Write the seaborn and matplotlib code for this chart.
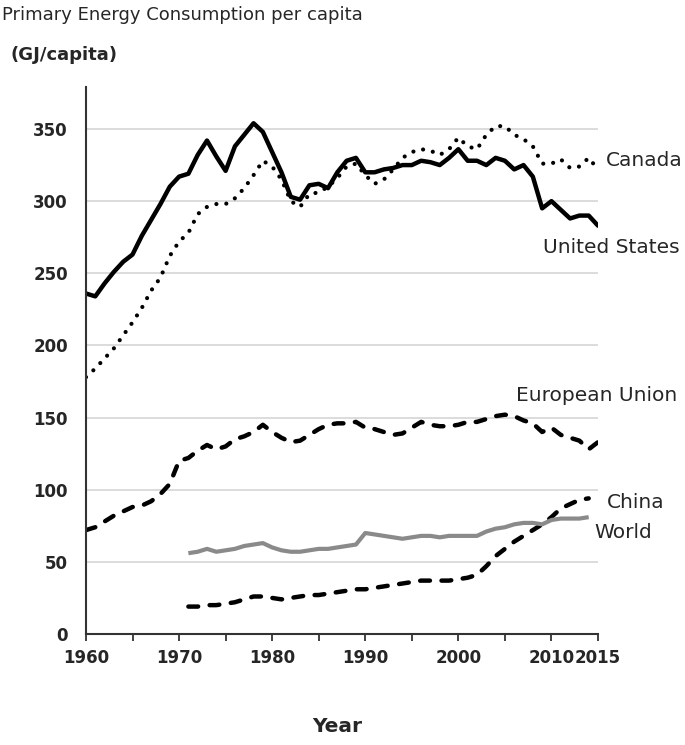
import matplotlib

matplotlib.use("Agg")
import matplotlib.pyplot as plt
import numpy as np
import pandas as pd
import seaborn as sns

# values (GJ per capita)
years_full = list(range(1960, 2016))
years_short = list(range(1971, 2015))

united_states = [
    236, 234, 243, 251, 258, 263, 276, 287, 298, 310,
    317, 319, 332, 342, 331, 321, 338, 346, 354, 348,
    334, 320, 303, 301, 311, 312, 309, 320, 328, 330,
    320, 320, 322, 323, 325, 325, 328, 327, 325, 330,
    336, 328, 328, 325, 330, 328, 322, 325, 317, 295,
    300, 294, 288, 290, 290, 283,
]
canada = [
    178, 184, 191, 198, 207, 216, 226, 238, 247, 262,
    272, 278, 291, 296, 298, 298, 302, 309, 318, 328,
    324, 315, 300, 296, 305, 306, 310, 316, 324, 326,
    318, 312, 315, 322, 330, 334, 336, 335, 332, 336,
    344, 338, 336, 346, 352, 352, 346, 343, 338, 326,
    326, 329, 323, 324, 330, 322,
]
european_union = [
    72, 74, 78, 82, 85, 88, 89, 92, 97, 104,
    120, 122, 127, 131, 128, 130, 135, 137, 140, 145,
    140, 136, 133, 134, 138, 142, 145, 146, 146, 147,
    143, 142, 140, 138, 139, 143, 147, 145, 144, 144,
    145, 147, 147, 149, 151, 152, 151, 148, 146, 140,
    143, 138, 136, 134, 128, 133,
]
world = [
    56, 57, 59, 57, 58, 59, 61, 62, 63,
    60, 58, 57, 57, 58, 59, 59, 60, 61, 62,
    70, 69, 68, 67, 66, 67, 68, 68, 67, 68,
    68, 68, 68, 71, 73, 74, 76, 77, 77, 76,
    79, 80, 80, 80, 81,
]
china = [
    19, 19, 20, 20, 21, 22, 24, 26, 26,
    25, 24, 25, 26, 27, 27, 28, 29, 30, 31,
    31, 32, 33, 34, 35, 36, 37, 37, 37, 37,
    38, 39, 41, 47, 54, 59, 64, 68, 72, 76,
    81, 87, 90, 93, 94,
]

x_ticks = list(range(1960, 2016, 5))
x_tick_labels = ["1960", "", "1970", "", "1980", "", "1990", "", "2000", "", "2010", "2015"]
y_ticks = [0, 50, 100, 150, 200, 250, 300, 350]

sns.set_style("white")
plt.rcParams["font.family"] = ["DejaVu Sans"]

TEXT = "#262626"
fig = plt.figure(figsize=(6.85, 7.45), dpi=100)
ax = fig.add_axes([0.1255, 0.149, 0.7475, 0.734])

full = pd.DataFrame({"year": years_full, "US": united_states, "Canada": canada, "EU": european_union})
short = pd.DataFrame({"year": years_short, "World": world, "China": china})

sns.lineplot(data=full, x="year", y="EU", ax=ax, color="black", lw=3.2,
             ls=(0, (2.2, 2.6)), dash_capstyle="round")
sns.lineplot(data=short, x="year", y="China", ax=ax, color="black", lw=3.2,
             ls=(0, (2.2, 2.6)), dash_capstyle="round")
sns.lineplot(data=short, x="year", y="World", ax=ax, color="#8a8a8a", lw=3.0,
             solid_capstyle="butt")
sns.lineplot(data=full, x="year", y="Canada", ax=ax, color="black", lw=3.0,
             ls=(0, (0.01, 2.4)), dash_capstyle="round")
sns.lineplot(data=full, x="year", y="US", ax=ax, color="black", lw=3.2,
             solid_joinstyle="round")

ax.set_xlim(1960, 2015)
ax.set_ylim(0, 379)
ax.set_xticks(x_ticks)
ax.set_xticklabels(x_tick_labels)
ax.set_yticks(y_ticks)
ax.set_xlabel("")
ax.set_ylabel("")

ax.grid(axis="y", color="#d9d9d9", lw=1.3)
ax.grid(axis="x", visible=False)
ax.set_axisbelow(True)
for side in ["top", "right"]:
    ax.spines[side].set_visible(False)
for side in ["left", "bottom"]:
    ax.spines[side].set_color("#333333")
    ax.spines[side].set_linewidth(1.5)

ax.tick_params(axis="x", length=5, width=1.3, color="#333333", pad=6,
               labelsize=12, labelcolor=TEXT, direction="out", bottom=True)
ax.tick_params(axis="y", length=0, pad=13, labelsize=12, labelcolor=TEXT)
for lbl in ax.get_xticklabels() + ax.get_yticklabels():
    lbl.set_fontweight("semibold")

# series labels next to the lines
lbl_kw = dict(fontsize=14.5, color=TEXT, va="center", clip_on=False)
ax.text(2015.8, 328, "Canada", ha="left", **lbl_kw)
ax.text(2023.8, 268, "United States", ha="right", **lbl_kw)
ax.text(2023.5, 165, "European Union", ha="right", **lbl_kw)
ax.text(2016.0, 91, "China", ha="left", **lbl_kw)
ax.text(2014.6, 70.5, "World", ha="left", **lbl_kw)

fig.text(2 / 685, 1 - 15 / 745, "Primary Energy Consumption per capita",
         fontsize=13, color=TEXT, ha="left", va="center")
fig.text(10 / 685, 1 - 55 / 745, "(GJ/capita)", fontsize=13,
         fontweight="bold", color=TEXT, ha="left", va="center")
fig.text(337 / 685, 1 - 727 / 745, "Year", fontsize=14.5,
         fontweight="semibold", color=TEXT, ha="center", va="center")

fig.savefig("out.png", dpi=100)
